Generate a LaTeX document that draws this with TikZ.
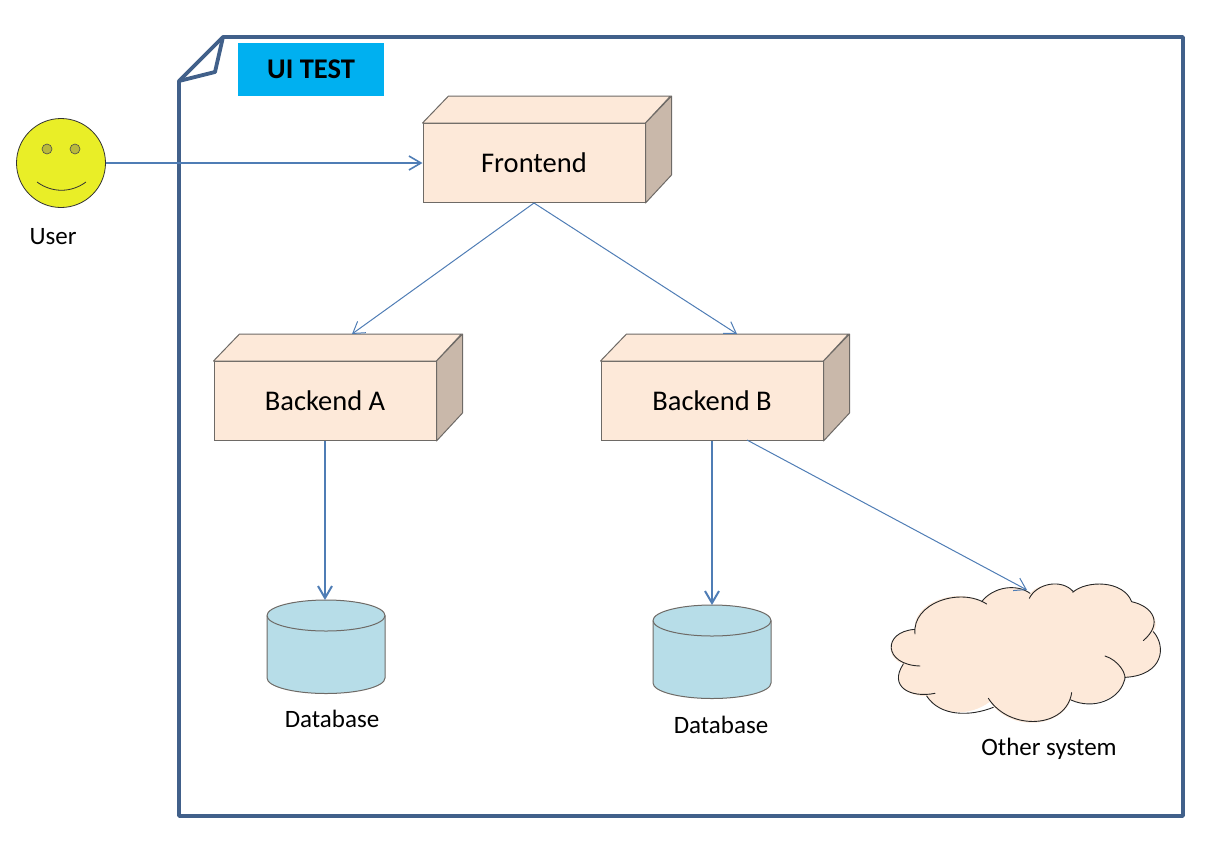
\documentclass[tikz,border=0pt]{standalone}
\usepackage{fontspec}
\setmainfont{Carlito}
\usetikzlibrary{arrows.meta}
\definecolor{framec}{HTML}{41608A}
\definecolor{linkc}{HTML}{4F7DB5}
\definecolor{peach}{HTML}{FDE9D9}
\definecolor{sidec}{HTML}{C9B8AA}
\definecolor{edgec}{HTML}{6E6A66}
\definecolor{dbc}{HTML}{B7DDE8}
\definecolor{sky}{HTML}{00B0F0}
\definecolor{smile}{HTML}{E9EE27}
\definecolor{eye}{HTML}{B9B93C}
\tikzset{
  x=1pt,y=-1pt,
  frameline/.style={draw=framec,line width=3.8pt,line join=round},
  boxfront/.style={draw=edgec,fill=peach,line width=1pt,minimum width=222pt,minimum height=79pt,inner sep=0pt,font=\fontsize{28.5}{32}\selectfont},
  boxtop/.style={draw=edgec,fill=peach,line width=1pt,line join=round},
  boxside/.style={draw=edgec,fill=sidec,line width=1pt,line join=round},
  label/.style={inner sep=0pt,font=\fontsize{25}{30}\selectfont},
  link/.style={draw=linkc,line width=1pt,-{Straight Barb[length=11pt,width=14pt,line width=1pt]}},
  linkb/.style={draw=linkc,line width=2pt,-{Straight Barb[length=12pt,width=14pt,line width=2pt]}},
  linkc2/.style={draw=linkc,line width=1.6pt,-{Straight Barb[length=12pt,width=14pt,line width=1.6pt]}},
  dbshape/.style={draw=edgec,fill=dbc,line width=1pt},
}
\newcommand{\boxthreed}[4]{% name, centre x, centre y, text
  \node[boxfront] (#1) at (#2,#3) {#4};
  \draw[boxtop] (#1.north west) -- ++(26,-27) -- ++(222,0) -- (#1.north east) -- cycle;
  \draw[boxside] (#1.north east) -- ++(26,-27) -- ++(0,79) -- (#1.south east) -- cycle;
}
\newcommand{\dbcyl}[3]{% name, centre x, top y
  \coordinate (#1top) at (#2,#3);
  \path[dbshape] (#2-59,#3+15.5) -- (#2-59,#3+78) arc[start angle=180,end angle=360,x radius=59,y radius=-15.5] -- (#2+59,#3+15.5) arc[start angle=0,end angle=180,x radius=59,y radius=-15.5] -- cycle;
  \draw[dbshape,fill=none] (#2-59,#3+15.5) arc[start angle=180,end angle=360,x radius=59,y radius=-15.5];
}
\begin{document}
\begin{tikzpicture}
\useasboundingbox (0,0) rectangle (1207,841);
% document frame
\draw[frameline] (179,81) -- (223,37) -- (1183,37) -- (1183,816) -- (179,816) -- cycle;
\draw[frameline] (223,37) -- (215,72) -- (179,81);
\node[fill=sky,minimum width=146pt,minimum height=53pt,inner sep=0pt,font=\bfseries\fontsize{28.5}{32}\selectfont] (title) at (311,69.5) {\raisebox{-1.5pt}{UI TEST}};
% user
\node[circle,draw=black!80,fill=smile,line width=.8pt,minimum size=89pt,inner sep=0pt] (user) at (61,163) {};
\draw[draw=black!70,fill=eye,line width=.6pt] (47,149) circle[radius=5];
\draw[draw=black!70,fill=eye,line width=.6pt] (75,149) circle[radius=5];
\draw[black!80,line width=.8pt] (37,182) .. controls (52,193) and (71,193) .. (86,182);
\node[label] (userl) at (53,237) {User};
% boxes
\boxthreed{front}{534}{163}{Frontend}
\boxthreed{backa}{325}{401}{Backend A}
\boxthreed{backb}{712}{401}{Backend B}
\coordinate (backatop) at (352,334);
\coordinate (backbtop) at (737,334);
\coordinate (backbout) at (747,440);
% databases
\dbcyl{dba}{326}{600}
\dbcyl{dbb}{712}{605}
\node[label] (dbal) at (332,719) {Database};
\node[label] (dbbl) at (721,725) {Database};
% cloud
\begin{scope}[shift={(870,560)},x=.3333pt,y=-.3333pt]
\path[fill=peach] (480,100)
 .. controls (500,75) and (570,55) .. (610,95)
 .. controls (650,60) and (760,60) .. (785,125)
 .. controls (850,140) and (870,190) .. (850,215)
 .. controls (890,260) and (880,345) .. (765,352)
 .. controls (760,410) and (670,450) .. (603,420)
 .. controls (570,505) and (420,515) .. (360,425)
 .. controls (300,470) and (210,470) .. (170,408)
 .. controls (120,410) and (60,380) .. (100,312)
 .. controls (40,290) and (50,215) .. (135,208)
 .. controls (125,130) and (260,80) .. (335,125)
 .. controls (370,80) and (440,70) .. (480,100) -- cycle;
\draw[black!85,line width=.9pt,line cap=round]
 (478,115) .. controls (500,70) and (575,55) .. (610,95)
 (608,97) .. controls (650,60) and (760,60) .. (785,125)
 (785,125) .. controls (850,140) and (880,190) .. (820,242)
 (850,215) .. controls (890,260) and (880,345) .. (767,352)
 (705,288) .. controls (745,300) and (775,345) .. (762,365) .. controls (745,420) and (670,450) .. (603,420)
 (605,398) .. controls (590,505) and (420,515) .. (355,415)
 (370,442) .. controls (300,470) and (210,470) .. (170,408)
 (195,400) .. controls (120,415) and (55,380) .. (100,312)
 (150,318) .. controls (40,315) and (35,215) .. (135,208)
 (135,222) .. controls (125,130) and (270,80) .. (350,132)
 (335,125) .. controls (370,80) and (440,70) .. (480,100);
\end{scope}
\coordinate (cloudin) at (1027,590);
\node[label] (cloudl) at (1049,749) {Other system};
% connectors
\draw[linkc2] (user.east) -- (front.west);
\draw[link] (front.south) -- (backatop);
\draw[link] (front.south) -- (backbtop);
\draw[linkb] (backa.south) -- (backa.south |- dbatop);
\draw[linkb] (backb.south) -- (dbbtop);
\draw[link] (backbout) -- (cloudin);
\end{tikzpicture}
\end{document}
